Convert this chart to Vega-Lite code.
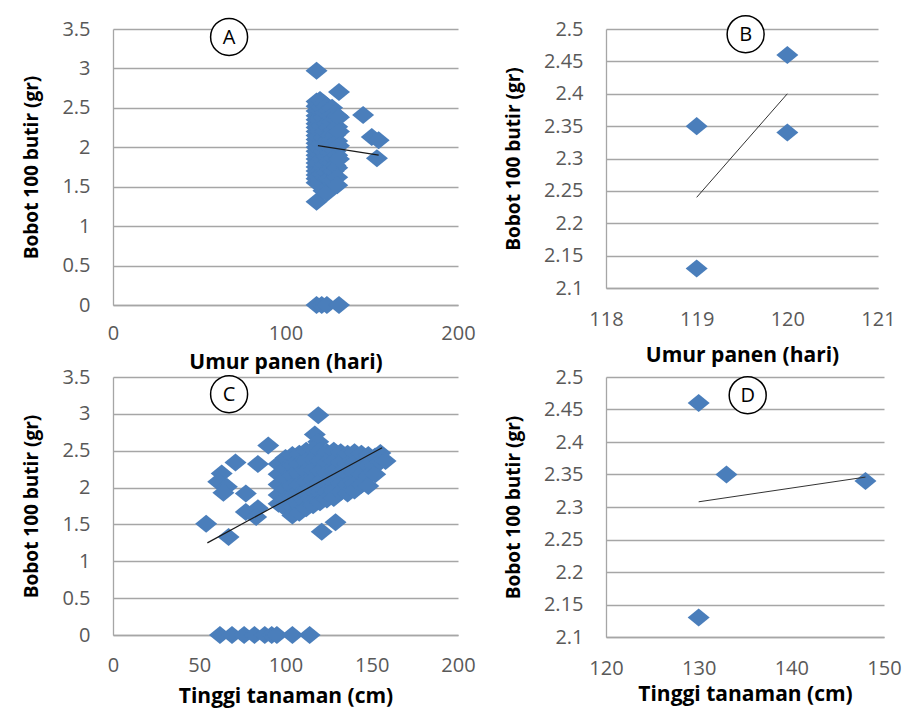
{
  "$schema": "https://vega.github.io/schema/vega-lite/v6.json",
  "background": "white",
  "padding": {"left": 22, "top": 12, "right": 5, "bottom": 5},
  "columns": 2,
  "spacing": {"row": 72, "column": 148},
  "bounds": "flush",
  "datasets": {
    "ptsA": [
      {"umur":118,"bobot":2.97},{"umur":118,"bobot":2.58},{"umur":118,"bobot":2.52},{"umur":118,"bobot":2.46},{"umur":118,"bobot":2.40},{"umur":118,"bobot":2.35},{"umur":118,"bobot":2.30},{"umur":118,"bobot":2.25},{"umur":118,"bobot":2.20},{"umur":118,"bobot":2.15},{"umur":118,"bobot":2.10},{"umur":118,"bobot":2.05},{"umur":118,"bobot":2.00},{"umur":118,"bobot":1.95},{"umur":118,"bobot":1.90},{"umur":118,"bobot":1.85},{"umur":118,"bobot":1.80},{"umur":118,"bobot":1.75},{"umur":118,"bobot":1.70},{"umur":118,"bobot":1.65},{"umur":118,"bobot":1.60},{"umur":118,"bobot":1.55},{"umur":118,"bobot":1.31},{"umur":118,"bobot":0},
      {"umur":119,"bobot":2.55},{"umur":119,"bobot":2.35},{"umur":119,"bobot":2.13},{"umur":119,"bobot":2.0},{"umur":119,"bobot":1.8},{"umur":119,"bobot":1.62},
      {"umur":120,"bobot":2.6},{"umur":120,"bobot":2.46},{"umur":120,"bobot":2.34},{"umur":120,"bobot":2.2},{"umur":120,"bobot":1.9},{"umur":120,"bobot":1.7},{"umur":120,"bobot":1.58},
      {"umur":121,"bobot":2.5},{"umur":121,"bobot":2.28},{"umur":121,"bobot":2.05},{"umur":121,"bobot":1.85},{"umur":121,"bobot":1.66},{"umur":121,"bobot":0},
      {"umur":122,"bobot":2.56},{"umur":122,"bobot":2.38},{"umur":122,"bobot":2.12},{"umur":122,"bobot":1.95},{"umur":122,"bobot":1.75},{"umur":122,"bobot":1.45},
      {"umur":123,"bobot":2.44},{"umur":123,"bobot":2.2},{"umur":123,"bobot":2.0},{"umur":123,"bobot":1.78},{"umur":123,"bobot":1.62},
      {"umur":124,"bobot":2.52},{"umur":124,"bobot":2.3},{"umur":124,"bobot":2.08},{"umur":124,"bobot":1.88},{"umur":124,"bobot":1.68},{"umur":124,"bobot":1.42},{"umur":124,"bobot":0},
      {"umur":125,"bobot":2.47},{"umur":125,"bobot":2.25},{"umur":125,"bobot":2.02},{"umur":125,"bobot":1.82},{"umur":125,"bobot":1.6},
      {"umur":126,"bobot":2.4},{"umur":126,"bobot":2.15},{"umur":126,"bobot":1.93},{"umur":126,"bobot":1.72},
      {"umur":127,"bobot":2.5},{"umur":127,"bobot":2.32},{"umur":127,"bobot":2.1},{"umur":127,"bobot":1.98},{"umur":127,"bobot":1.8},{"umur":127,"bobot":1.58},
      {"umur":128,"bobot":2.42},{"umur":128,"bobot":2.22},{"umur":128,"bobot":2.04},{"umur":128,"bobot":1.86},{"umur":128,"bobot":1.7},
      {"umur":129,"bobot":2.36},{"umur":129,"bobot":2.16},{"umur":129,"bobot":1.95},{"umur":129,"bobot":1.77},
      {"umur":130,"bobot":2.4},{"umur":130,"bobot":2.26},{"umur":130,"bobot":2.08},{"umur":130,"bobot":1.9},{"umur":130,"bobot":1.74},{"umur":130,"bobot":1.62},{"umur":130,"bobot":1.52},
      {"umur":131,"bobot":2.70},{"umur":131,"bobot":2.38},{"umur":131,"bobot":2.2},{"umur":131,"bobot":2.02},{"umur":131,"bobot":1.85},{"umur":131,"bobot":0},
      {"umur":145,"bobot":2.41},{"umur":150,"bobot":2.13},{"umur":154,"bobot":2.09},{"umur":153,"bobot":1.86}
    ],
    "lineA": [{"umur":118.8,"bobot":2.02},{"umur":154,"bobot":1.90}],
    "tagA": [{"umur":67.3,"bobot":3.40,"label":"A"}],
    "ptsB": [{"umur":119,"bobot":2.35},{"umur":119,"bobot":2.13},{"umur":120,"bobot":2.46},{"umur":120,"bobot":2.34}],
    "lineB": [{"umur":119,"bobot":2.24},{"umur":120,"bobot":2.40}],
    "tagB": [{"umur":119.54,"bobot":2.492,"label":"B"}],
    "ptsC": [
      {"tinggi":119,"bobot":2.98},{"tinggi":90,"bobot":2.57},{"tinggi":71,"bobot":2.34},{"tinggi":63,"bobot":2.19},{"tinggi":61,"bobot":2.08},{"tinggi":66,"bobot":2.01},{"tinggi":64,"bobot":1.93},{"tinggi":77,"bobot":1.92},{"tinggi":84,"bobot":2.32},{"tinggi":54,"bobot":1.51},{"tinggi":67,"bobot":1.33},{"tinggi":77,"bobot":1.67},{"tinggi":84,"bobot":1.72},{"tinggi":83,"bobot":1.60},{"tinggi":121,"bobot":1.40},{"tinggi":129,"bobot":1.53},{"tinggi":117,"bobot":2.72},{"tinggi":119,"bobot":2.62},
      {"tinggi":62,"bobot":0},{"tinggi":69,"bobot":0},{"tinggi":76,"bobot":0},{"tinggi":82,"bobot":0},{"tinggi":88,"bobot":0},{"tinggi":92,"bobot":0},{"tinggi":95,"bobot":0},{"tinggi":104,"bobot":0},{"tinggi":114,"bobot":0},
      {"tinggi":96,"bobot":2.32},{"tinggi":96,"bobot":2.18},{"tinggi":96,"bobot":2.04},{"tinggi":96,"bobot":1.9},{"tinggi":96,"bobot":1.78},
      {"tinggi":100,"bobot":2.4},{"tinggi":100,"bobot":2.26},{"tinggi":100,"bobot":2.12},{"tinggi":100,"bobot":1.98},{"tinggi":100,"bobot":1.84},{"tinggi":100,"bobot":1.72},
      {"tinggi":104,"bobot":2.44},{"tinggi":104,"bobot":2.3},{"tinggi":104,"bobot":2.16},{"tinggi":104,"bobot":2.02},{"tinggi":104,"bobot":1.88},{"tinggi":104,"bobot":1.74},{"tinggi":104,"bobot":1.62},
      {"tinggi":108,"bobot":2.46},{"tinggi":108,"bobot":2.32},{"tinggi":108,"bobot":2.18},{"tinggi":108,"bobot":2.04},{"tinggi":108,"bobot":1.9},{"tinggi":108,"bobot":1.76},{"tinggi":108,"bobot":1.66},
      {"tinggi":112,"bobot":2.5},{"tinggi":112,"bobot":2.36},{"tinggi":112,"bobot":2.22},{"tinggi":112,"bobot":2.08},{"tinggi":112,"bobot":1.94},{"tinggi":112,"bobot":1.8},{"tinggi":112,"bobot":1.72},
      {"tinggi":116,"bobot":2.52},{"tinggi":116,"bobot":2.38},{"tinggi":116,"bobot":2.24},{"tinggi":116,"bobot":2.1},{"tinggi":116,"bobot":1.96},{"tinggi":116,"bobot":1.82},{"tinggi":116,"bobot":1.76},
      {"tinggi":120,"bobot":2.5},{"tinggi":120,"bobot":2.36},{"tinggi":120,"bobot":2.22},{"tinggi":120,"bobot":2.08},{"tinggi":120,"bobot":1.94},{"tinggi":120,"bobot":1.8},
      {"tinggi":124,"bobot":2.48},{"tinggi":124,"bobot":2.34},{"tinggi":124,"bobot":2.2},{"tinggi":124,"bobot":2.06},{"tinggi":124,"bobot":1.94},{"tinggi":124,"bobot":1.84},
      {"tinggi":128,"bobot":2.5},{"tinggi":128,"bobot":2.36},{"tinggi":128,"bobot":2.22},{"tinggi":128,"bobot":2.08},{"tinggi":128,"bobot":1.96},{"tinggi":128,"bobot":1.86},
      {"tinggi":132,"bobot":2.48},{"tinggi":132,"bobot":2.34},{"tinggi":132,"bobot":2.2},{"tinggi":132,"bobot":2.06},{"tinggi":132,"bobot":1.94},
      {"tinggi":136,"bobot":2.46},{"tinggi":136,"bobot":2.32},{"tinggi":136,"bobot":2.18},{"tinggi":136,"bobot":2.04},{"tinggi":136,"bobot":1.92},
      {"tinggi":140,"bobot":2.48},{"tinggi":140,"bobot":2.34},{"tinggi":140,"bobot":2.2},{"tinggi":140,"bobot":2.06},{"tinggi":140,"bobot":1.96},
      {"tinggi":144,"bobot":2.46},{"tinggi":144,"bobot":2.32},{"tinggi":144,"bobot":2.18},{"tinggi":144,"bobot":2.04},
      {"tinggi":148,"bobot":2.44},{"tinggi":148,"bobot":2.3},{"tinggi":148,"bobot":2.16},{"tinggi":148,"bobot":2.02},
      {"tinggi":152,"bobot":2.42},{"tinggi":152,"bobot":2.3},{"tinggi":152,"bobot":2.18},
      {"tinggi":155,"bobot":2.47},{"tinggi":155,"bobot":2.35},{"tinggi":158,"bobot":2.36}
    ],
    "lineC": [{"tinggi":54.7,"bobot":1.25},{"tinggi":156,"bobot":2.54}],
    "tagC": [{"tinggi":67.3,"bobot":3.267,"label":"C"}],
    "ptsD": [{"tinggi":130,"bobot":2.46},{"tinggi":130,"bobot":2.13},{"tinggi":133,"bobot":2.35},{"tinggi":148,"bobot":2.34}],
    "lineD": [{"tinggi":130,"bobot":2.308},{"tinggi":148,"bobot":2.346}],
    "tagD": [{"tinggi":135.29,"bobot":2.472,"label":"D"}]
  },
  "concat": [
    {
      "width": 345, "height": 276,
      "layer": [
        {"data": {"name": "ptsA"},
         "mark": {"type": "point", "shape": "M-1,0L0,-0.82L1,0L0,0.82Z", "filled": true, "size": 484, "color": "#4A7EBB", "opacity": 1},
         "encoding": {
           "x": {"field": "umur", "type": "quantitative", "title": "Umur panen (hari)", "scale": {"domain": [0, 200], "nice": false, "zero": false}, "axis": {"values": [0, 100, 200], "tickCount": 20, "format": "~f", "labelPadding": 18, "titlePadding": 8}},
           "y": {"field": "bobot", "type": "quantitative", "title": "Bobot 100 butir (gr)", "scale": {"domain": [0, 3.5], "nice": false, "zero": false}, "axis": {"values": [0, 0.5, 1, 1.5, 2, 2.5, 3, 3.5], "tickCount": 20, "format": "~f", "labelPadding": 23, "titlePadding": 20}}
         }},
        {"data": {"name": "lineA"}, "mark": {"type": "line", "color": "#1a1a1a", "strokeWidth": 1.2},
         "encoding": {"x": {"field": "umur", "type": "quantitative"}, "y": {"field": "bobot", "type": "quantitative"}}},
        {"data": {"name": "tagA"}, "mark": {"type": "point", "shape": "circle", "size": 1369, "filled": true, "fill": "white", "stroke": "black", "strokeWidth": 1.5, "opacity": 1},
         "encoding": {"x": {"field": "umur", "type": "quantitative"}, "y": {"field": "bobot", "type": "quantitative"}}},
        {"data": {"name": "tagA"}, "mark": {"type": "text", "fontSize": 20, "font": "Open Sans", "color": "black", "align": "center", "baseline": "middle", "dy": 1},
         "encoding": {"x": {"field": "umur", "type": "quantitative"}, "y": {"field": "bobot", "type": "quantitative"}, "text": {"field": "label"}}}
      ]
    },
    {
      "width": 272, "height": 259,
      "layer": [
        {"data": {"name": "ptsB"},
         "mark": {"type": "point", "shape": "M-1,0L0,-0.82L1,0L0,0.82Z", "filled": true, "size": 484, "color": "#4A7EBB", "opacity": 1},
         "encoding": {
           "x": {"field": "umur", "type": "quantitative", "title": "Umur panen (hari)", "scale": {"domain": [118, 121], "nice": false, "zero": false}, "axis": {"values": [118, 119, 120, 121], "tickCount": 20, "format": "~f", "labelPadding": 21, "titlePadding": 15}},
           "y": {"field": "bobot", "type": "quantitative", "title": "Bobot 100 butir (gr)", "scale": {"domain": [2.1, 2.5], "nice": false, "zero": false}, "axis": {"values": [2.1, 2.15, 2.2, 2.25, 2.3, 2.35, 2.4, 2.45, 2.5], "tickCount": 20, "format": "~f", "labelPadding": 23, "titlePadding": 20}}
         }},
        {"data": {"name": "lineB"}, "mark": {"type": "line", "color": "#333333", "strokeWidth": 1},
         "encoding": {"x": {"field": "umur", "type": "quantitative"}, "y": {"field": "bobot", "type": "quantitative"}}},
        {"data": {"name": "tagB"}, "mark": {"type": "point", "shape": "circle", "size": 1369, "filled": true, "fill": "white", "stroke": "black", "strokeWidth": 1.5, "opacity": 1},
         "encoding": {"x": {"field": "umur", "type": "quantitative"}, "y": {"field": "bobot", "type": "quantitative"}}},
        {"data": {"name": "tagB"}, "mark": {"type": "text", "fontSize": 20, "font": "Open Sans", "color": "black", "align": "center", "baseline": "middle", "dy": 1},
         "encoding": {"x": {"field": "umur", "type": "quantitative"}, "y": {"field": "bobot", "type": "quantitative"}, "text": {"field": "label"}}}
      ]
    },
    {
      "width": 345, "height": 258,
      "layer": [
        {"data": {"name": "ptsC"},
         "mark": {"type": "point", "shape": "M-1,0L0,-0.82L1,0L0,0.82Z", "filled": true, "size": 484, "color": "#4A7EBB", "opacity": 1},
         "encoding": {
           "x": {"field": "tinggi", "type": "quantitative", "title": "Tinggi tanaman (cm)", "scale": {"domain": [0, 200], "nice": false, "zero": false}, "axis": {"values": [0, 50, 100, 150, 200], "tickCount": 20, "format": "~f", "labelPadding": 20, "titlePadding": 10}},
           "y": {"field": "bobot", "type": "quantitative", "title": "Bobot 100 butir (gr)", "scale": {"domain": [0, 3.5], "nice": false, "zero": false}, "axis": {"values": [0, 0.5, 1, 1.5, 2, 2.5, 3, 3.5], "tickCount": 20, "format": "~f", "labelPadding": 23, "titlePadding": 20}}
         }},
        {"data": {"name": "lineC"}, "mark": {"type": "line", "color": "#1a1a1a", "strokeWidth": 1.2},
         "encoding": {"x": {"field": "tinggi", "type": "quantitative"}, "y": {"field": "bobot", "type": "quantitative"}}},
        {"data": {"name": "tagC"}, "mark": {"type": "point", "shape": "circle", "size": 1369, "filled": true, "fill": "white", "stroke": "black", "strokeWidth": 1.5, "opacity": 1},
         "encoding": {"x": {"field": "tinggi", "type": "quantitative"}, "y": {"field": "bobot", "type": "quantitative"}}},
        {"data": {"name": "tagC"}, "mark": {"type": "text", "fontSize": 20, "font": "Open Sans", "color": "black", "align": "center", "baseline": "middle", "dy": 1},
         "encoding": {"x": {"field": "tinggi", "type": "quantitative"}, "y": {"field": "bobot", "type": "quantitative"}, "text": {"field": "label"}}}
      ]
    },
    {
      "width": 278, "height": 260,
      "layer": [
        {"data": {"name": "ptsD"},
         "mark": {"type": "point", "shape": "M-1,0L0,-0.82L1,0L0,0.82Z", "filled": true, "size": 484, "color": "#4A7EBB", "opacity": 1},
         "encoding": {
           "x": {"field": "tinggi", "type": "quantitative", "title": "Tinggi tanaman (cm)", "scale": {"domain": [120, 150], "nice": false, "zero": false}, "axis": {"values": [120, 130, 140, 150], "tickCount": 20, "format": "~f", "labelPadding": 21, "titlePadding": 5}},
           "y": {"field": "bobot", "type": "quantitative", "title": "Bobot 100 butir (gr)", "scale": {"domain": [2.1, 2.5], "nice": false, "zero": false}, "axis": {"values": [2.1, 2.15, 2.2, 2.25, 2.3, 2.35, 2.4, 2.45, 2.5], "tickCount": 20, "format": "~f", "labelPadding": 23, "titlePadding": 20}}
         }},
        {"data": {"name": "lineD"}, "mark": {"type": "line", "color": "#333333", "strokeWidth": 1},
         "encoding": {"x": {"field": "tinggi", "type": "quantitative"}, "y": {"field": "bobot", "type": "quantitative"}}},
        {"data": {"name": "tagD"}, "mark": {"type": "point", "shape": "circle", "size": 1369, "filled": true, "fill": "white", "stroke": "black", "strokeWidth": 1.5, "opacity": 1},
         "encoding": {"x": {"field": "tinggi", "type": "quantitative"}, "y": {"field": "bobot", "type": "quantitative"}}},
        {"data": {"name": "tagD"}, "mark": {"type": "text", "fontSize": 20, "font": "Open Sans", "color": "black", "align": "center", "baseline": "middle", "dy": 1},
         "encoding": {"x": {"field": "tinggi", "type": "quantitative"}, "y": {"field": "bobot", "type": "quantitative"}, "text": {"field": "label"}}}
      ]
    }
  ],
  "config": {
    "view": {"stroke": null},
    "font": "Open Sans",
    "axis": {
      "labelFont": "Open Sans", "titleFont": "Open Sans", "labelFontSize": 20, "labelColor": "#595959",
      "titleColor": "#000000", "titleFontWeight": "bold", "ticks": false, "tickSize": 0,
      "domainColor": "#a6a6a6", "domainWidth": 1.3, "gridColor": "#a6a6a6", "gridWidth": 1.3, "labelFlush": false, "labelOverlap": false
    },
    "axisX": {"grid": false, "titleFontSize": 21},
    "axisY": {"grid": true, "titleFontSize": 19}
  }
}
